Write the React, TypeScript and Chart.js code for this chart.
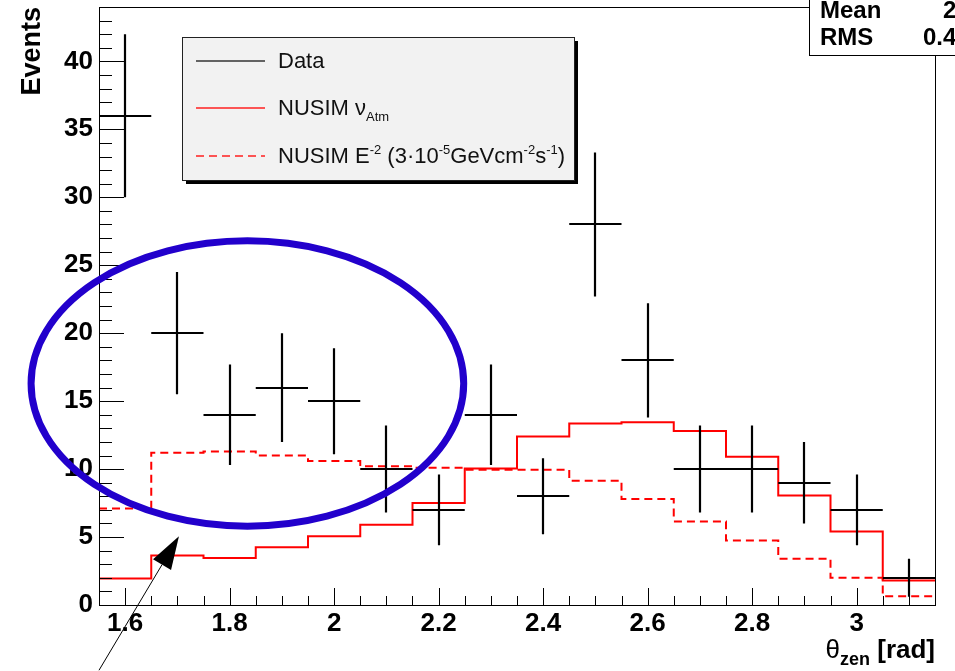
import { useEffect, useRef } from "react";
import { Chart, registerables } from "chart.js";

Chart.register(...registerables);

// ---- data ----
const binCenters = [1.6, 1.7, 1.8, 1.9, 2.0, 2.1, 2.2, 2.3, 2.4, 2.5, 2.6, 2.7, 2.8, 2.9, 3.0, 3.1];
const binWidth = 0.1;
const dataCounts = [36, 20, 14, 16, 15, 10, 7, 14, 8, 28, 18, 10, 10, 9, 7, 2];
const dataErrors = [6.0, 4.5, 3.7, 4.0, 3.9, 3.2, 2.6, 3.7, 2.8, 5.3, 4.2, 3.2, 3.2, 3.0, 2.6, 1.4];
const nusimAtm = [1.95, 3.65, 3.45, 4.25, 5.05, 5.9, 7.5, 10.05, 12.4, 13.35, 13.45, 12.8, 10.9, 8.05, 5.4, 1.8];
const nusimE2 = [7.1, 11.2, 11.3, 11.0, 10.6, 10.2, 10.1, 9.95, 9.95, 9.15, 7.8, 6.15, 4.75, 3.4, 2.0, 0.65];
const xTickValues = [1.6, 1.8, 2.0, 2.2, 2.4, 2.6, 2.8, 3.0];
const xTickLabels = ["1.6", "1.8", "2", "2.2", "2.4", "2.6", "2.8", "3"];
const yTickValues = [0, 5, 10, 15, 20, 25, 30, 35, 40];
const yTickLabels = ["0", "5", "10", "15", "20", "25", "30", "35", "40"];
const xRange = [1.55, 3.15];
const yRange = [0, 44];
const statNames = ["Mean", "RMS"];
const statValues = ["2", "0.4"];
// annotation (in data units)
const ellipseCenter = [1.834, 16.3];
const ellipseRadii = [0.414, 10.5];
const arrowFrom = [1.55, -4.8];
const arrowTo = [1.703, 5.05];

const FONT = "'Liberation Sans', Arial, Helvetica, sans-serif";

type Part = { t: string; size: number; weight?: string; dy?: number };

function drawRich(ctx: CanvasRenderingContext2D, x: number, y: number, parts: Part[], measureOnly = false) {
  let cx = x;
  for (const p of parts) {
    ctx.font = `${p.weight || "normal"} ${p.size}px ${FONT}`;
    if (!measureOnly) ctx.fillText(p.t, cx, y + (p.dy || 0));
    cx += ctx.measureText(p.t).width;
  }
  return cx - x;
}

function stepPoints(values: number[]) {
  const last = values.length - 1;
  const pts = [{ x: binCenters[0] - binWidth / 2, y: values[0] }];
  values.forEach((v, i) => pts.push({ x: binCenters[i], y: v }));
  pts.push({ x: binCenters[last] + binWidth / 2, y: values[last] });
  return pts;
}

const rootPlugin = {
  id: "rootStyle",
  afterDatasetsDraw(chart: any) {
    const { ctx, chartArea: ca, scales } = chart;
    const x = scales.x, y = scales.y;
    ctx.save();
    ctx.beginPath();
    ctx.rect(ca.left, ca.top, ca.right - ca.left, ca.bottom - ca.top);
    ctx.clip();
    ctx.strokeStyle = "#000";
    ctx.lineWidth = 2.2;
    binCenters.forEach((c, i) => {
      const v = dataCounts[i];
      const e = dataErrors[i];
      const px = Math.round(x.getPixelForValue(c));
      const py = Math.round(y.getPixelForValue(v));
      ctx.beginPath();
      ctx.moveTo(x.getPixelForValue(c - binWidth / 2), py);
      ctx.lineTo(x.getPixelForValue(c + binWidth / 2), py);
      ctx.moveTo(px, y.getPixelForValue(v - e));
      ctx.lineTo(px, y.getPixelForValue(v + e));
      ctx.stroke();
    });
    ctx.restore();
  },
  afterDraw(chart: any) {
    const { ctx, chartArea: ca, scales } = chart;
    const x = scales.x, y = scales.y;
    ctx.save();

    // frame
    ctx.strokeStyle = "#000";
    ctx.lineWidth = 1;
    ctx.strokeRect(ca.left + 0.5, ca.top + 0.5, ca.right - ca.left, ca.bottom - ca.top);

    // y ticks (inward)
    ctx.beginPath();
    for (let v = yRange[0]; v <= yRange[1]; v += 1) {
      const py = Math.round(y.getPixelForValue(v)) + 0.5;
      const len = v % 5 === 0 ? 25 : 13;
      ctx.moveTo(ca.left, py);
      ctx.lineTo(ca.left + len, py);
    }
    // x ticks (inward)
    for (let i = 32; i <= 62; i++) {
      const v = i * 0.05;
      const px = Math.round(x.getPixelForValue(v)) + 0.5;
      const len = i % 4 === 0 ? 17 : 9;
      ctx.moveTo(px, ca.bottom);
      ctx.lineTo(px, ca.bottom - len);
    }
    ctx.stroke();

    // legend box
    const lx = ca.left + 83, ly = ca.top + 30, lw = 392, lh = 143;
    ctx.fillStyle = "#000";
    ctx.fillRect(lx + 4, ly + 4, lw, lh);
    ctx.fillStyle = "#f2f2f2";
    ctx.fillRect(lx, ly, lw, lh);
    ctx.strokeStyle = "#222";
    ctx.lineWidth = 1;
    ctx.strokeRect(lx + 0.5, ly + 0.5, lw, lh);

    const rows = [ly + 24, ly + 71, ly + 119];
    const lineX0 = lx + 14, lineX1 = lx + 83, textX = lx + 96;
    ctx.lineWidth = 1.6;
    ctx.strokeStyle = "#333";
    ctx.beginPath(); ctx.moveTo(lineX0, rows[0]); ctx.lineTo(lineX1, rows[0]); ctx.stroke();
    ctx.strokeStyle = "#ff2020";
    ctx.beginPath(); ctx.moveTo(lineX0, rows[1]); ctx.lineTo(lineX1, rows[1]); ctx.stroke();
    ctx.setLineDash([8, 5]);
    ctx.beginPath(); ctx.moveTo(lineX0, rows[2]); ctx.lineTo(lineX1, rows[2]); ctx.stroke();
    ctx.setLineDash([]);

    ctx.fillStyle = "#111";
    ctx.textAlign = "left";
    ctx.textBaseline = "alphabetic";
    const ls = 22, ss = 13;
    drawRich(ctx, textX, rows[0] + 7, [{ t: chart.data.datasets[0].label, size: ls }]);
    drawRich(ctx, textX, rows[1] + 7, [
      { t: "NUSIM \u03BD", size: ls },
      { t: "Atm", size: ss, dy: 6 },
    ]);
    drawRich(ctx, textX, rows[2] + 7, [
      { t: "NUSIM E", size: ls },
      { t: "-2", size: ss, dy: -9 },
      { t: " (3\u00B710", size: ls },
      { t: "-5", size: ss, dy: -9 },
      { t: "GeVcm", size: ls },
      { t: "-2", size: ss, dy: -9 },
      { t: "s", size: ls },
      { t: "-1", size: ss, dy: -9 },
      { t: ")", size: ls },
    ]);

    // stats box
    ctx.fillStyle = "#fff";
    ctx.fillRect(809.5, -1, 200, 56.5);
    ctx.strokeStyle = "#000";
    ctx.lineWidth = 1;
    ctx.strokeRect(809.5, -1, 200, 56.5);
    ctx.fillStyle = "#000";
    ctx.font = `bold 24px ${FONT}`;
    ctx.fillText(statNames[0], 820, 18);
    ctx.fillText(statNames[1], 820, 45);
    ctx.fillText(statValues[0], 943, 18);
    ctx.fillText(statValues[1], 923, 45);

    // y-axis title
    ctx.save();
    ctx.translate(40, ca.top);
    ctx.rotate(-Math.PI / 2);
    ctx.textAlign = "right";
    ctx.font = `bold 27px ${FONT}`;
    ctx.fillText("Events", 0, 0);
    ctx.restore();

    // x-axis title (right aligned)
    const titleParts: Part[] = [
      { t: "\u03B8", size: 26 },
      { t: "zen", size: 18, weight: "bold", dy: 7 },
      { t: " [rad]", size: 26, weight: "bold" },
    ];
    const tw = drawRich(ctx, 0, 0, titleParts, true);
    drawRich(ctx, ca.right - tw, 658, titleParts);

    // ellipse annotation
    const ecx = x.getPixelForValue(ellipseCenter[0]);
    const ecy = y.getPixelForValue(ellipseCenter[1]);
    const erx = x.getPixelForValue(ellipseCenter[0] + ellipseRadii[0]) - ecx;
    const ery = ecy - y.getPixelForValue(ellipseCenter[1] + ellipseRadii[1]);
    ctx.strokeStyle = "#2200cc";
    ctx.lineWidth = 7;
    ctx.beginPath();
    ctx.ellipse(ecx, ecy, erx, ery, 0, 0, Math.PI * 2);
    ctx.stroke();

    // arrow annotation
    const ax0 = x.getPixelForValue(arrowFrom[0]), ay0 = y.getPixelForValue(arrowFrom[1]);
    const ax1 = x.getPixelForValue(arrowTo[0]), ay1 = y.getPixelForValue(arrowTo[1]);
    const dx = ax1 - ax0, dy = ay1 - ay0;
    const L = Math.hypot(dx, dy);
    const ux = dx / L, uy = dy / L;
    const hl = 33, hw = 10.5;
    ctx.strokeStyle = "#000";
    ctx.lineWidth = 1;
    ctx.beginPath();
    ctx.moveTo(ax0, ay0);
    ctx.lineTo(ax1 - ux * hl, ay1 - uy * hl);
    ctx.stroke();
    const bx = ax1 - ux * hl, by = ay1 - uy * hl;
    ctx.fillStyle = "#000";
    ctx.beginPath();
    ctx.moveTo(ax1, ay1);
    ctx.lineTo(bx - uy * hw, by + ux * hw);
    ctx.lineTo(bx + uy * hw, by - ux * hw);
    ctx.closePath();
    ctx.fill();

    ctx.restore();
  },
};

export default function App() {
  const canvasRef = useRef<HTMLCanvasElement | null>(null);

  useEffect(() => {
    const canvas = canvasRef.current;
    if (!canvas) return;
    const chart = new Chart(canvas, {
      type: "line",
      data: {
        datasets: [
          {
            label: "Data",
            data: binCenters.map((c, i) => ({ x: c, y: dataCounts[i] })),
            showLine: false,
            pointRadius: 0,
            borderColor: "#000",
          },
          {
            label: "NUSIM \u03BDAtm",
            data: stepPoints(nusimAtm),
            stepped: "middle",
            borderColor: "#ff0000",
            borderWidth: 2,
            pointRadius: 0,
            fill: false,
          },
          {
            label: "NUSIM E-2",
            data: stepPoints(nusimE2),
            stepped: "middle",
            borderColor: "#ff0000",
            borderWidth: 2,
            borderDash: [8, 5],
            pointRadius: 0,
            fill: false,
          },
        ],
      } as any,
      options: {
        animation: false,
        responsive: false,
        devicePixelRatio: 1,
        events: [],
        layout: { padding: { left: 0, right: 20, top: 7, bottom: 0 } },
        plugins: { legend: { display: false }, tooltip: { enabled: false } },
        scales: {
          x: {
            type: "linear",
            min: xRange[0],
            max: xRange[1],
            grid: { display: false, drawTicks: false },
            border: { display: false },
            afterBuildTicks: (s: any) => {
              s.ticks = xTickValues.map((v) => ({ value: v }));
            },
            afterFit: (s: any) => {
              s.height = 66;
              s.paddingLeft = 0;
              s.paddingRight = 0;
            },
            ticks: {
              autoSkip: false,
              maxRotation: 0,
              padding: 3,
              color: "#000",
              font: { family: FONT, size: 26, weight: "bold" },
              callback: (v: any) => {
                const idx = xTickValues.findIndex((t) => Math.abs(t - v) < 1e-6);
                return idx >= 0 ? xTickLabels[idx] : "";
              },
            },
          },
          y: {
            type: "linear",
            min: yRange[0],
            max: yRange[1],
            grid: { display: false, drawTicks: false },
            border: { display: false },
            afterBuildTicks: (s: any) => {
              s.ticks = yTickValues.map((v) => ({ value: v }));
            },
            afterFit: (s: any) => {
              s.width = 99;
              s.paddingTop = 0;
              s.paddingBottom = 0;
            },
            ticks: {
              autoSkip: false,
              padding: 6,
              color: "#000",
              font: { family: FONT, size: 26, weight: "bold" },
              callback: (v: any) => {
                const idx = yTickValues.findIndex((t) => Math.abs(t - v) < 1e-6);
                return idx >= 0 ? yTickLabels[idx] : "";
              },
            },
          },
        },
      } as any,
      plugins: [rootPlugin as any],
    });
    return () => chart.destroy();
  }, []);

  return (
    <div style={{ position: "fixed", left: 0, top: 0, width: 955, height: 671, background: "#fff", overflow: "hidden" }}>
      <canvas ref={canvasRef} width={955} height={671} style={{ display: "block", width: 955, height: 671 }} />
    </div>
  );
}
